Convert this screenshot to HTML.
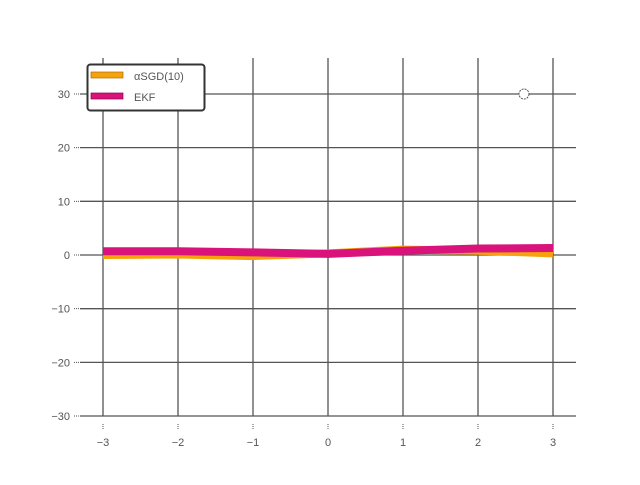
<!DOCTYPE html>
<html><head><meta charset="utf-8"><style>
html,body{margin:0;padding:0;background:#fff;}
svg text{font-family:"Liberation Sans",sans-serif;font-size:11px;fill:#555;}
</style></head><body>
<svg id="chart" width="640" height="480">
<g id="grid"></g>
<g id="series"></g>
<circle cx="524" cy="94" r="5" fill="#fff" stroke="#555" stroke-dasharray="2,1"/>
<g>
<rect x="87.5" y="64.5" width="117" height="46" rx="3" fill="#fff" stroke="#333" stroke-width="2"/>
<rect x="91" y="72" width="32" height="6" fill="#f5a20c" stroke="#b07000" stroke-width="0.7"/>
<text x="134" y="80">αSGD(10)</text>
<rect x="91" y="93" width="32" height="6" fill="#d9137b" stroke="#900050" stroke-width="0.7"/>
<text x="134" y="101">EKF</text>
</g>
</svg>
<script>
const xs = [-3, -2, -1, 0, 1, 2, 3];
const osgd = [0.0, 0.1, -0.2, 0.3, 1.0, 0.8, 0.3];
const ekf = [0.7, 0.7, 0.5, 0.2, 0.8, 1.2, 1.3];
const xTicks = [-3, -2, -1, 0, 1, 2, 3];
const yTicks = [-30, -20, -10, 0, 10, 20, 30];
const NS = 'http://www.w3.org/2000/svg';
const X = v => 328 + v * 75;
const Y = v => 255 - v * 5.367;
function mk(tag, attrs, parent){const e=document.createElementNS(NS,tag);for(const k in attrs)e.setAttribute(k,attrs[k]);parent.appendChild(e);return e;}
const grid=document.getElementById('grid');
xTicks.forEach(t=>{
  const l=mk('line',{x1:X(t),x2:X(t),y1:58,y2:416,stroke:'#555','stroke-width':1.3},grid);
  
  
  mk('line',{x1:X(t),x2:X(t),y1:424,y2:430,stroke:'#555','stroke-dasharray':'1,1'},grid);
  const tx=mk('text',{x:X(t),y:446,'text-anchor':'middle'},grid);
  tx.textContent=(t<0?'\u2212'+(-t):t);
  
  
});
yTicks.forEach(t=>{
  const l=mk('line',{x1:80,x2:576,y1:Y(t),y2:Y(t),stroke:'#555','stroke-width':1.3},grid);
  
  
  mk('line',{x1:74,x2:79,y1:Y(t),y2:Y(t),stroke:'#555','stroke-dasharray':'1,1'},grid);
  const tx=mk('text',{x:70,y:Y(t)+4,'text-anchor':'end'},grid);
  tx.textContent=(t<0?'\u2212'+(-t):t);
  
  
});
const ser=document.getElementById('series');
function draw(vals,color,name){
  const p=mk('polyline',{points:xs.map((x,i)=>X(x)+','+Y(vals[i])).join(' '),fill:'none',stroke:color,'stroke-width':8,'stroke-linejoin':'round','stroke-linecap':'butt'},ser);
  
  
}
draw(osgd,'#f5a20c','series-osgd');
draw(ekf,'#d9137b','series-ekf');
</script>
</body></html>
